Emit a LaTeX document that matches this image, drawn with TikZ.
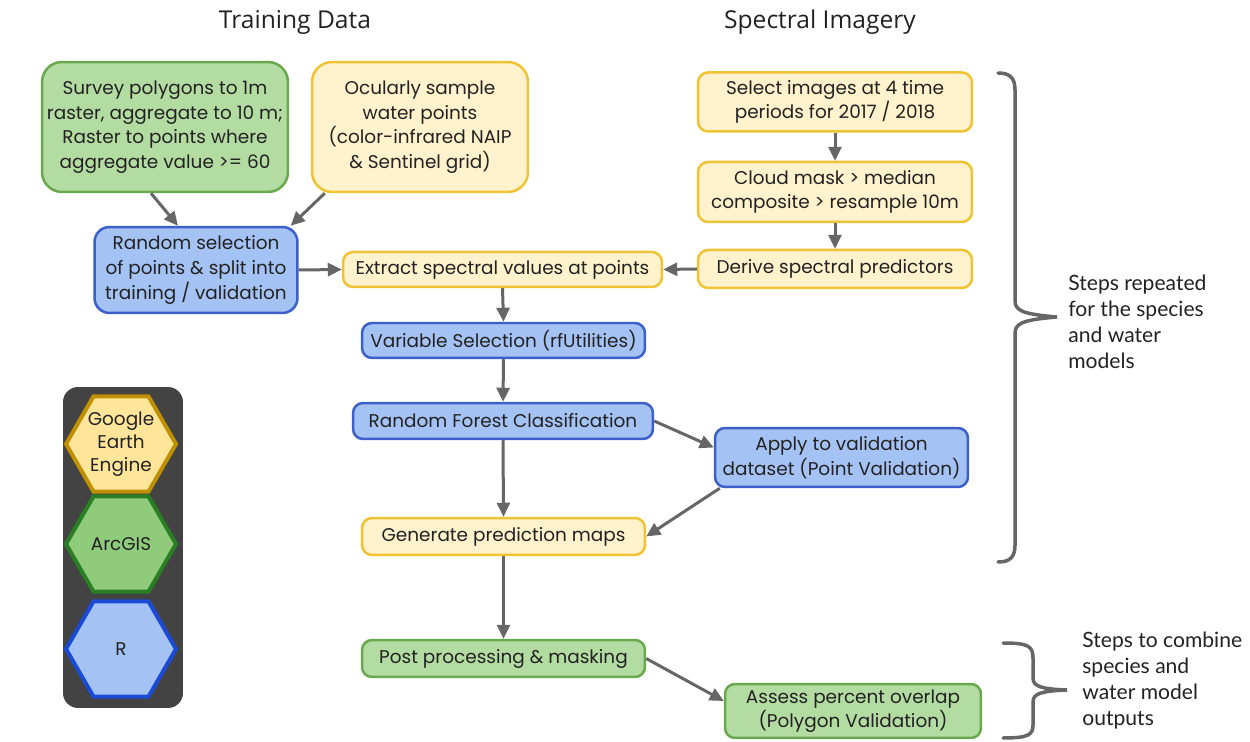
\documentclass[tikz,border=0pt]{standalone}
\usepackage{fontspec}
\setmainfont{Poppins}
\newfontfamily\titlefont{Open Sans}
\newfontfamily\notefont{Lato}
\usetikzlibrary{arrows.meta,shapes.geometric,calc}
\definecolor{gfill}{HTML}{B3DCA2}
\definecolor{gdraw}{HTML}{6AA84F}
\definecolor{yfill}{HTML}{FFF2CC}
\definecolor{ydraw}{HTML}{F1C232}
\definecolor{bfill}{HTML}{A4C2F4}
\definecolor{bdraw}{HTML}{3C5FCC}
\definecolor{textc}{HTML}{222222}
\definecolor{arrc}{HTML}{666666}
\definecolor{legbg}{HTML}{434343}
\definecolor{hyfill}{HTML}{FFE599}
\definecolor{hydraw}{HTML}{BF9000}
\definecolor{hgfill}{HTML}{8FCB7A}
\definecolor{hgdraw}{HTML}{2A7F22}
\definecolor{hbfill}{HTML}{A4C2F4}
\definecolor{hbdraw}{HTML}{1A4AD6}
\begin{document}
\begin{tikzpicture}[x=0.02cm,y=-0.02cm,
  box/.style={draw, line width=0.05cm, rounded corners=0.2cm, align=center,
    font=\fontsize{10.5}{14}\selectfont, text=textc, inner sep=0pt},
  gbox/.style={box, fill=gfill, draw=gdraw},
  ybox/.style={box, fill=yfill, draw=ydraw},
  bbox/.style={box, fill=bfill, draw=bdraw},
  arr/.style={draw=arrc, line width=0.06cm, -{Triangle[length=0.28cm,width=0.26cm]}},
  brace/.style={draw=arrc, line width=0.07cm, line cap=round},
  titletext/.style={font=\titlefont\fontsize{14}{16}\selectfont, text=textc},
  notetext/.style={font=\notefont\fontsize{12}{14.8}\selectfont, text=textc, align=left, anchor=west, inner sep=0pt},
  hexa/.style={regular polygon, regular polygon sides=6, minimum size=2.2cm, inner sep=0pt,
    line width=0.08cm, align=center, font=\fontsize{10.5}{13}\selectfont, text=textc}
]
\useasboundingbox (0,0) rectangle (1250,742);

% titles
\node[titletext] (t1) at (295,22) {Training Data};
\node[titletext] (t2) at (820,22) {Spectral Imagery};

% boxes
\node[gbox, rounded corners=0.4cm, minimum width=4.92cm, minimum height=2.6cm] (b1) at (165,127)
  {Survey polygons to 1m\\raster, aggregate to 10 m;\\Raster to points where\\aggregate value >= 60};
\node[ybox, rounded corners=0.4cm, minimum width=4.32cm, minimum height=2.6cm] (b2) at (420,127)
  {Ocularly sample\\water points\\(color-infrared NAIP\\\& Sentinel grid)};
\node[bbox, rounded corners=0.3cm, minimum width=4.06cm, minimum height=1.72cm] (b3) at (196,270)
  {Random selection\\of points \& split into\\training / validation};
\node[ybox, minimum width=6.38cm, minimum height=0.7cm] (ext) at (502.5,269.5)
  {Extract spectral values at points};
\node[ybox, minimum width=5.48cm, minimum height=1.18cm] (sel) at (835,102)
  {Select images at 4 time\\periods for 2017 / 2018};
\node[ybox, minimum width=5.48cm, minimum height=1.2cm] (cld) at (835,192)
  {Cloud mask > median\\composite > resample 10m};
\node[ybox, minimum width=5.48cm, minimum height=0.76cm] (der) at (835,269)
  {Derive spectral predictors};
\node[bbox, minimum width=5.66cm, minimum height=0.7cm] (var) at (503.5,340.5)
  {Variable Selection (rfUtilities)};
\node[bbox, minimum width=6.0cm, minimum height=0.72cm] (rf) at (503,421)
  {Random Forest Classification};
\node[bbox, minimum width=5.06cm, minimum height=1.18cm] (app) at (841.5,457.5)
  {Apply to validation\\dataset (Point Validation)};
\node[ybox, minimum width=5.66cm, minimum height=0.74cm] (gen) at (503.5,536.5)
  {Generate prediction maps};
\node[gbox, minimum width=5.66cm, minimum height=0.74cm] (post) at (503.5,658.5)
  {Post processing \& masking};
\node[gbox, minimum width=5.12cm, minimum height=1.08cm] (ass) at (853,711)
  {Assess percent overlap\\(Polygon Validation)};

% connectors
\draw[arr] ($(b1.south)+(-14,0)$) -- ($(b3.north)+(-18,0)$);
\draw[arr] ($(b2.south west)+(14,0)$) -- ($(b3.north east)+(-8,0)$);
\draw[arr] (b3.east) -- (ext.west);
\draw[arr] (der.west) -- (ext.east);
\draw[arr] (sel.south) -- (cld.north);
\draw[arr] (cld.south) -- (der.north);
\draw[arr] (ext.south) -- (var.north);
\draw[arr] (var.south) -- (rf.north);
\draw[arr] (rf.south) -- (gen.north);
\draw[arr] (rf.east) -- ($(app.west)+(0,-10)$);
\draw[arr] ($(app.south west)+(6,0)$) -- (gen.east);
\draw[arr] (gen.south) -- (post.north);
\draw[arr] (post.east) -- ($(ass.west)+(0,-10)$);

% legend
\node[fill=legbg, rounded corners=0.3cm, minimum width=2.4cm, minimum height=6.42cm, inner sep=0pt] (leg) at (123,547.5) {};
\node[hexa, fill=hyfill, draw=hydraw] (gee) at (121,444) {Google\\Earth\\Engine};
\node[hexa, fill=hgfill, draw=hgdraw] (arc) at (121,544) {ArcGIS};
\node[hexa, fill=hbfill, draw=hbdraw] (rr) at (121,649) {R};

% braces
\draw[brace] (998,73) .. controls (1010,73) and (1015,78) .. (1015,90) -- (1015,300)
  .. controls (1015,310) and (1020,314) .. (1057,317)
  .. controls (1020,320) and (1015,324) .. (1015,334) -- (1015,545)
  .. controls (1015,557) and (1010,562) .. (998,562);
\draw[brace] (1003,643) .. controls (1028,643) and (1033,646) .. (1033,658) -- (1033,678)
  .. controls (1033,686) and (1040,689) .. (1067,690)
  .. controls (1040,691) and (1033,694) .. (1033,702) -- (1033,725)
  .. controls (1033,735) and (1028,738) .. (1003,738);

\node[notetext] (n1) at (1068,322) {Steps repeated\\for the species\\and water\\models};
\node[notetext] (n2) at (1082,681) {Steps to combine\\species and\\water model\\outputs};
\end{tikzpicture}
\end{document}
